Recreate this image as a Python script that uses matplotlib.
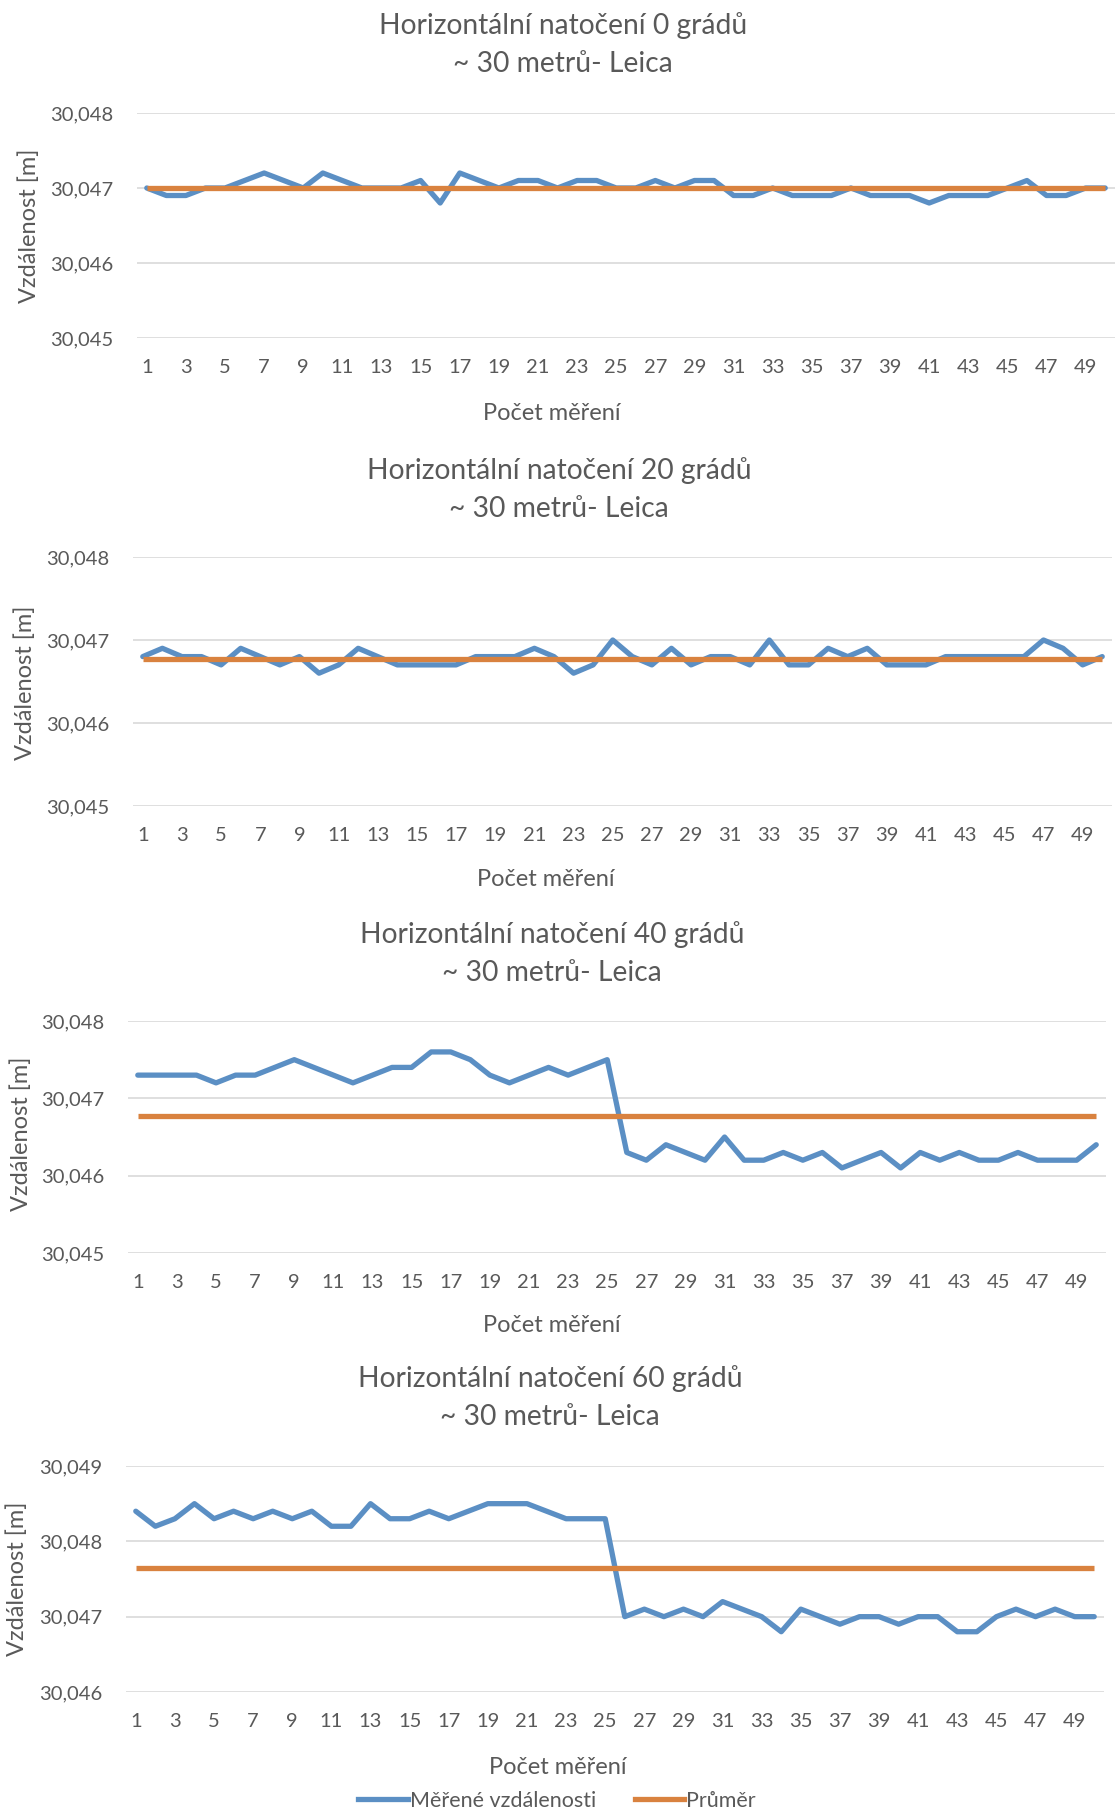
import matplotlib
matplotlib.use("Agg")
import matplotlib.pyplot as plt
from matplotlib.ticker import FuncFormatter
from matplotlib.lines import Line2D

plt.rcParams['font.family'] = ['Lato', 'DejaVu Sans']

W, H = 1118, 1814

# ---------------- data ----------------
measurements = list(range(1, 51))
xtick_labels = list(range(1, 50, 2))

titles = [
    "Horizontální natočení 0 grádů\n~ 30 metrů- Leica",
    "Horizontální natočení 20 grádů\n~ 30 metrů- Leica",
    "Horizontální natočení 40 grádů\n~ 30 metrů- Leica",
    "Horizontální natočení 60 grádů\n~ 30 metrů- Leica",
]

dist_0 = [30.0470, 30.0469, 30.0469, 30.0470, 30.0470, 30.0471, 30.0472, 30.0471, 30.0470, 30.0472,
          30.0471, 30.0470, 30.0470, 30.0470, 30.0471, 30.0468, 30.0472, 30.0471, 30.0470, 30.0471,
          30.0471, 30.0470, 30.0471, 30.0471, 30.0470, 30.0470, 30.0471, 30.0470, 30.0471, 30.0471,
          30.0469, 30.0469, 30.0470, 30.0469, 30.0469, 30.0469, 30.0470, 30.0469, 30.0469, 30.0469,
          30.0468, 30.0469, 30.0469, 30.0469, 30.0470, 30.0471, 30.0469, 30.0469, 30.0470, 30.0470]
mean_0 = 30.04700

dist_20 = [30.0468, 30.0469, 30.0468, 30.0468, 30.0467, 30.0469, 30.0468, 30.0467, 30.0468, 30.0466,
           30.0467, 30.0469, 30.0468, 30.0467, 30.0467, 30.0467, 30.0467, 30.0468, 30.0468, 30.0468,
           30.0469, 30.0468, 30.0466, 30.0467, 30.0470, 30.0468, 30.0467, 30.0469, 30.0467, 30.0468,
           30.0468, 30.0467, 30.0470, 30.0467, 30.0467, 30.0469, 30.0468, 30.0469, 30.0467, 30.0467,
           30.0467, 30.0468, 30.0468, 30.0468, 30.0468, 30.0468, 30.0470, 30.0469, 30.0467, 30.0468]
mean_20 = 30.04677

dist_40 = [30.0473, 30.0473, 30.0473, 30.0473, 30.0472, 30.0473, 30.0473, 30.0474, 30.0475, 30.0474,
           30.0473, 30.0472, 30.0473, 30.0474, 30.0474, 30.0476, 30.0476, 30.0475, 30.0473, 30.0472,
           30.0473, 30.0474, 30.0473, 30.0474, 30.0475, 30.0463, 30.0462, 30.0464, 30.0463, 30.0462,
           30.0465, 30.0462, 30.0462, 30.0463, 30.0462, 30.0463, 30.0461, 30.0462, 30.0463, 30.0461,
           30.0463, 30.0462, 30.0463, 30.0462, 30.0462, 30.0463, 30.0462, 30.0462, 30.0462, 30.0464]
mean_40 = 30.04677

dist_60 = [30.0484, 30.0482, 30.0483, 30.0485, 30.0483, 30.0484, 30.0483, 30.0484, 30.0483, 30.0484,
           30.0482, 30.0482, 30.0485, 30.0483, 30.0483, 30.0484, 30.0483, 30.0484, 30.0485, 30.0485,
           30.0485, 30.0484, 30.0483, 30.0483, 30.0483, 30.0470, 30.0471, 30.0470, 30.0471, 30.0470,
           30.0472, 30.0471, 30.0470, 30.0468, 30.0471, 30.0470, 30.0469, 30.0470, 30.0470, 30.0469,
           30.0470, 30.0470, 30.0468, 30.0468, 30.0470, 30.0471, 30.0470, 30.0471, 30.0470, 30.0470]
mean_60 = 30.04765

series = [dist_0, dist_20, dist_40, dist_60]
means = [mean_0, mean_20, mean_40, mean_60]
yticks_all = [
    [30.045, 30.046, 30.047, 30.048],
    [30.045, 30.046, 30.047, 30.048],
    [30.045, 30.046, 30.047, 30.048],
    [30.046, 30.047, 30.048, 30.049],
]

legend_labels = ["Měřené vzdálenosti", "Průměr"]
xlabel_text = "Počet měření"
ylabel_text = "Vzdálenost [m]"

# ---------------- layout (pixel positions) ----------------
panels = [
    dict(l=137, r=1115, t=113, b=338, tx=563, ty=(26, 64), xl=(552, 413), yl=(29, 226)),
    dict(l=133, r=1112, t=557, b=806, tx=559, ty=(471, 509), xl=(546, 879), yl=(25, 683)),
    dict(l=128, r=1106, t=1021, b=1253, tx=552, ty=(935, 973), xl=(552, 1325), yl=(21, 1134)),
    dict(l=126, r=1104, t=1466, b=1692, tx=550, ty=(1379, 1417), xl=(558, 1768), yl=(17, 1579)),
]

TXT = "#595959"
BLUE = "#5b8fc4"
ORANGE = "#d9823f"
GRID = "#d9d9d9"

fig = plt.figure(figsize=(W / 100, H / 100), dpi=100)
fig.patch.set_facecolor("white")

fmt = FuncFormatter(lambda v, p: f"{v:.3f}".replace(".", ","))

for i, p in enumerate(panels):
    ax = fig.add_axes([p["l"] / W, 1 - p["b"] / H, (p["r"] - p["l"]) / W, (p["b"] - p["t"]) / H])
    yt = yticks_all[i]
    ax.set_ylim(yt[0], yt[-1])
    ax.set_xlim(0.5, 50.5)
    ax.set_yticks(yt)
    ax.yaxis.set_major_formatter(fmt)
    ax.set_xticks(xtick_labels)
    ax.set_xticklabels([str(v) for v in xtick_labels])
    ax.grid(axis="y", color=GRID, lw=1.2)
    ax.set_axisbelow(True)
    for s in ax.spines.values():
        s.set_visible(False)
    ax.tick_params(axis="both", length=0, labelsize=14.5, colors=TXT)
    ax.tick_params(axis="x", pad=15)
    ax.tick_params(axis="y", pad=17)
    ax.plot(measurements, series[i], color=BLUE, lw=3.8, solid_joinstyle="round",
            solid_capstyle="round", zorder=3)
    ax.plot(measurements, [means[i]] * len(measurements), color=ORANGE, lw=3.8,
            solid_capstyle="butt", zorder=4)

    line1, line2 = titles[i].split("\n")
    fig.text(p["tx"] / W, 1 - p["ty"][0] / H, line1, ha="center", va="center",
             fontsize=20.3, color=TXT)
    fig.text(p["tx"] / W, 1 - p["ty"][1] / H, line2, ha="center", va="center",
             fontsize=20.3, color=TXT)
    fig.text(p["xl"][0] / W, 1 - p["xl"][1] / H, xlabel_text, ha="center", va="center",
             fontsize=17, color=TXT)
    fig.text(p["yl"][0] / W, 1 - p["yl"][1] / H, ylabel_text, ha="center", va="center",
             fontsize=17, color=TXT, rotation=90)

handles = [Line2D([], [], color=BLUE, lw=3.8), Line2D([], [], color=ORANGE, lw=3.8)]
fig.legend(handles, legend_labels, loc="center", bbox_to_anchor=(557 / W, 1 - 1801 / H),
           ncol=2, frameon=False, fontsize=15.5, labelcolor=TXT, handlelength=2.3,
           handletextpad=0.1, columnspacing=1.8)

fig.savefig("out.png", dpi=100, facecolor="white")
